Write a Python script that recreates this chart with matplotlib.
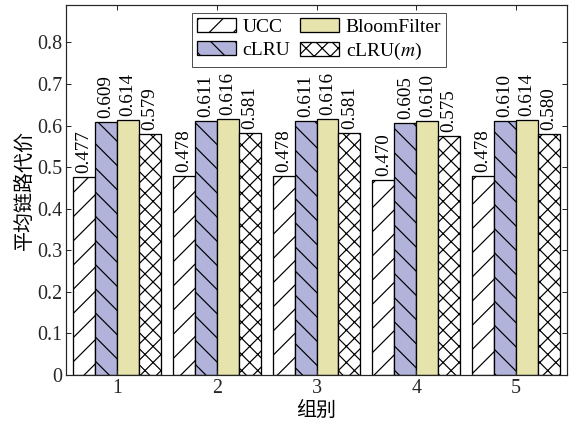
import matplotlib
matplotlib.use("Agg")
import matplotlib.pyplot as plt
import numpy as np

# data
groups = [1, 2, 3, 4, 5]
series = ["UCC", "cLRU", "BloomFilter", "cLRU($m$)"]
ucc = [0.477, 0.478, 0.478, 0.470, 0.478]
clru = [0.609, 0.611, 0.611, 0.605, 0.610]
bloom = [0.614, 0.616, 0.616, 0.610, 0.614]
clru_m = [0.579, 0.581, 0.581, 0.575, 0.580]
yticks = [0, 0.1, 0.2, 0.3, 0.4, 0.5, 0.6, 0.7, 0.8]

# dpi picked so hatch spacing comes out close to the reference
DPI = 145
P = 72.0 / DPI  # one pixel in points

plt.rcParams["font.family"] = ["Liberation Serif", "Noto Sans CJK SC"]
plt.rcParams["mathtext.fontset"] = "stix"
plt.rcParams["hatch.linewidth"] = 1.2 * P
plt.rcParams["hatch.color"] = "black"

fig = plt.figure(figsize=(577 / DPI, 427 / DPI), dpi=DPI)
ax = fig.add_axes([66 / 577, 1 - 375 / 427, 501 / 577, 370 / 427])

facecolors = ["white", "#B1B3DA", "#E6E3AD", "white"]
hatches = ["//", "\\\\", "", "xxx"]
values = [ucc, clru, bloom, clru_m]
w = 0.22
x = np.array(groups, dtype=float)

for i, (name, vals) in enumerate(zip(series, values)):
    xs = x + (i - 1.5) * w
    bars = ax.bar(xs, vals, width=w, color=facecolors[i], hatch=hatches[i],
                  edgecolor="black", linewidth=1.3 * P, label=name)
    for b, v in zip(bars, vals):
        ax.annotate(f"{v:.3f}", (b.get_x() + b.get_width() / 2, v),
                    xytext=(0, 2), textcoords="offset points",
                    rotation=90, ha="center", va="bottom",
                    fontsize=19 * P)

ax.set_xlim(0.49, 5.51)
ax.set_ylim(0, 0.89)
ax.set_xticks(groups)
ax.set_yticks(yticks)
ax.set_yticklabels([f"{t:g}" for t in yticks])
ax.tick_params(direction="in", top=True, right=True, length=5 * P,
               width=1 * P, labelsize=20 * P, colors="#262626", pad=4 * P)
for s in ax.spines.values():
    s.set_linewidth(1.2 * P)
    s.set_color("#262626")

ax.set_xlabel("组别", fontsize=20 * P, labelpad=4 * P)
ax.set_ylabel("平均链路代价", fontsize=20 * P, labelpad=1)

leg = ax.legend(loc="upper center", ncol=2, fontsize=19.5 * P,
                bbox_to_anchor=(0.505, 1.005), frameon=True, fancybox=False,
                edgecolor="#262626", handlelength=2.0, handleheight=0.75,
                columnspacing=0.5, handletextpad=0.35, borderpad=0.25,
                labelspacing=0.25)
leg.get_frame().set_linewidth(1 * P)

fig.savefig("out.png", dpi=DPI)
